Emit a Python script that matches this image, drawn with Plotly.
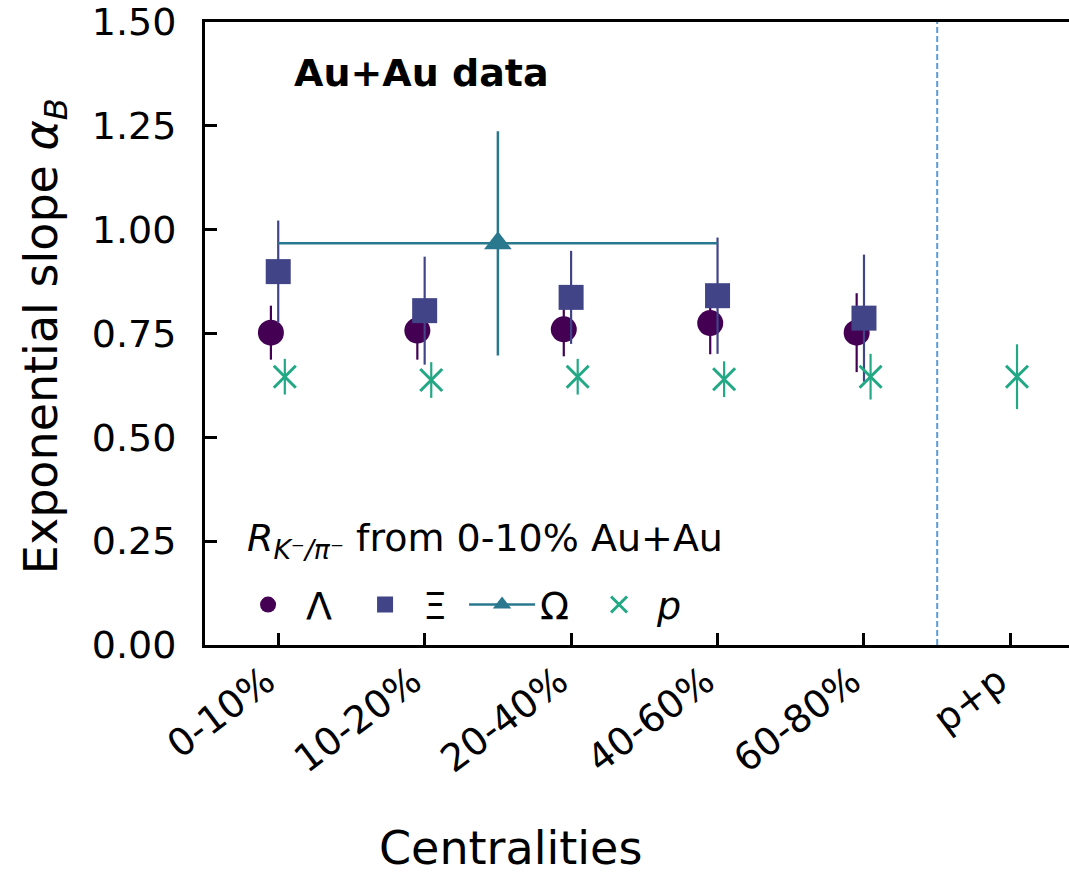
import plotly.graph_objects as go

categories = ["0-10%", "10-20%", "20-40%", "40-60%", "60-80%", "p+p"]

lambda_vals = [0.752, 0.757, 0.760, 0.775, 0.752]
lambda_err = [0.065, 0.070, 0.065, 0.075, 0.095]

xi_vals = [0.899, 0.805, 0.837, 0.841, 0.787]
xi_err = [0.123, 0.130, 0.112, 0.140, 0.153]

omega_pos = [1.5]
omega_vals = [0.967]
omega_err = [0.27]
omega_xerr = [1.5]

p_vals = [0.646, 0.638, 0.646, 0.640, 0.646, 0.646]
p_err = [0.043, 0.043, 0.043, 0.043, 0.055, 0.078]

lambda_off = -0.05
xi_off = 0.0
p_off = 0.045
separator = 4.5

C_L = "#440154"
C_X = "#414487"
C_O = "#2a788e"
C_P = "#22a884"
FONT = "DejaVu Sans"

fig = go.Figure()

fig.add_trace(go.Scatter(
    x=[i + lambda_off for i in range(len(lambda_vals))], y=lambda_vals,
    mode="markers", name="Λ",
    marker=dict(symbol="circle", size=26, color=C_L),
    error_y=dict(type="data", array=lambda_err, color=C_L, thickness=2.2, width=0),
))
fig.add_trace(go.Scatter(
    x=[i + xi_off for i in range(len(xi_vals))], y=xi_vals,
    mode="markers", name="Ξ",
    marker=dict(symbol="square", size=25, color=C_X),
    error_y=dict(type="data", array=xi_err, color=C_X, thickness=2.2, width=0),
))
fig.add_trace(go.Scatter(
    x=omega_pos, y=omega_vals,
    mode="lines+markers", name="Ω",
    line=dict(color=C_O, width=2.5),
    marker=dict(symbol="triangle-up", size=24, color=C_O),
    error_y=dict(type="data", array=omega_err, color=C_O, thickness=2.5, width=0),
    error_x=dict(type="data", array=omega_xerr, color=C_O, thickness=2.5, width=0),
))
fig.add_trace(go.Scatter(
    x=[i + p_off for i in range(len(p_vals))], y=p_vals,
    mode="markers", name="<i>p</i>",
    marker=dict(symbol="x-thin-open", size=22, color=C_P, line=dict(color=C_P, width=3)),
    error_y=dict(type="data", array=p_err, color=C_P, thickness=2.2, width=0),
))

fig.add_shape(type="line", xref="x", yref="paper", x0=separator, x1=separator, y0=0, y1=1,
              line=dict(color="#5b9bd5", width=2, dash="6px,3px"), layer="below")

fig.add_annotation(text="<b>Au+Au data</b>", xref="paper", yref="paper", x=0.101, y=0.918,
                   xanchor="left", yanchor="middle", showarrow=False,
                   font=dict(family=FONT, size=38, color="black"))
fig.add_annotation(text="<i>R</i><sub><i>K</i>⁻<i>/π</i>⁻</sub> from 0-10% Au+Au",
                   xref="paper", yref="paper", x=0.046, y=0.1685,
                   xanchor="left", yanchor="middle", showarrow=False,
                   font=dict(family=FONT, size=38, color="black"))
fig.add_annotation(text="Exponential slope <i>α</i><sub><i>B</i></sub>", xref="paper", yref="paper",
                   x=-0.185, y=0.496, textangle=-90, xanchor="center", yanchor="middle",
                   showarrow=False, font=dict(family=FONT, size=46, color="black"))
fig.add_annotation(text="Centralities", xref="paper", yref="paper", x=0.354, y=-0.326,
                   xanchor="center", yanchor="middle", showarrow=False,
                   font=dict(family=FONT, size=46, color="black"))

fig.update_layout(
    width=1069, height=877,
    margin=dict(l=205, r=0, t=22, b=232),
    paper_bgcolor="white", plot_bgcolor="white",
    font=dict(family=FONT, size=38, color="black"),
    showlegend=True,
    legend=dict(
        orientation="h", x=0.029, y=0.115, xanchor="left", yanchor="top",
        bgcolor="rgba(0,0,0,0)",
        font=dict(family=FONT, size=38),
        entrywidth=36, entrywidthmode="pixels", itemwidth=66,
        tracegroupgap=0,
    ),
    xaxis=dict(
        range=[-0.5, 5.4], tickmode="array", tickvals=list(range(len(categories))),
        ticktext=categories, tickangle=-37, ticks="inside", ticklen=12, tickwidth=2.5,
        tickcolor="black", showline=True, linecolor="black", linewidth=3, mirror=True,
        showgrid=False, zeroline=False, ticklabelstandoff=-4, ticklabelshift=-12,
        tickfont=dict(family=FONT, size=38),
    ),
    yaxis=dict(
        range=[0, 1.5], tickmode="array", tickvals=[0, 0.25, 0.5, 0.75, 1.0, 1.25, 1.5],
        tickformat=".2f", ticks="inside", ticklen=12, tickwidth=2.5, tickcolor="black",
        showline=True, linecolor="black", linewidth=3, mirror=False,
        showgrid=False, zeroline=False, ticklabelstandoff=18,
        tickfont=dict(family=FONT, size=38),
    ),
)

fig.write_html("out.html")
